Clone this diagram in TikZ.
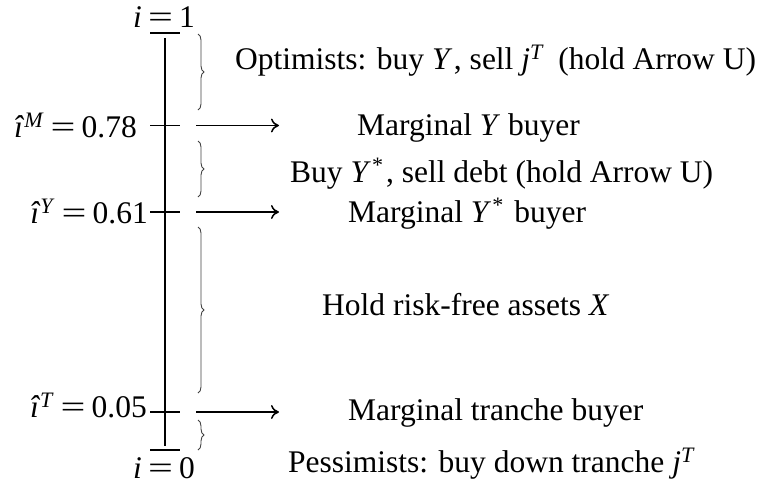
\documentclass[tikz,border=0pt]{standalone}
\usepackage{fontspec}
\setmainfont{Liberation Serif}
\usepackage{graphicx}
\usetikzlibrary{arrows.meta,decorations.pathreplacing}
\newcommand{\vit}[1]{\textit{#1}}
\newcommand{\eqs}{\hspace{0.2em}\scalebox{1.4}[1]{=}\hspace{0.2em}}
\newcommand{\sps}[1]{\textsuperscript{\textit{#1}}}
\newcommand{\starsup}{\textsuperscript{\kern0.05em*}\hspace{0.08em}}
\begin{document}
\begin{tikzpicture}[x=1pt,y=-1pt,
  every node/.style={font=\fontsize{31.5}{38}\selectfont, inner sep=0pt},
  axis/.style={line width=1.4pt},
  tick/.style={line width=1.2pt},
  arr/.style={line width=1.5pt,-{To[length=8pt,width=14pt,line width=1.5pt]}},
  brc/.style={decorate,decoration={brace,amplitude=6pt},line width=0.9pt,black!75},
  desc/.style={anchor=base west},
  lft/.style={anchor=base east}]
\useasboundingbox (0,0) rectangle (767,493);
% axis ends
\coordinate (topL) at (150,33); \coordinate (topR) at (180,33);
\coordinate (botL) at (150,450); \coordinate (botR) at (180,450);
\coordinate (axT) at (165,38); \coordinate (axB) at (165,446);
\draw[tick] (topL) -- (topR);
\draw[tick] (botL) -- (botR);
\draw[axis] (axT) -- (axB);
% ticks
\coordinate (tMl) at (150,125.5); \coordinate (tMr) at (180,125.5);
\coordinate (tYl) at (150,212); \coordinate (tYr) at (180,212);
\coordinate (tTl) at (150,412); \coordinate (tTr) at (180,412);
\draw[tick] (tMl) -- (tMr);
\draw[tick] (tYl) -- (tYr);
\draw[tick] (tTl) -- (tTr);
% end labels
\node[anchor=base] (i1) at (164,27) {\vit{i}\eqs1};
\node[anchor=base] (i0) at (164,478) {\vit{i}\eqs0};
\node[lft] (iM) at (137,137) {\vit{\^{\i}}\sps{M}\eqs0.78};
\node[lft] (iY) at (148,223) {\vit{\^{\i}}\sps{Y}\eqs0.61};
\node[lft] (iT) at (147,417) {\vit{\^{\i}}\sps{T}\eqs0.05};
% arrows
\coordinate (aMs) at (196,125.5); \coordinate (aMe) at (279,125.5);
\coordinate (aYs) at (196,212); \coordinate (aYe) at (279,212);
\coordinate (aTs) at (196,412); \coordinate (aTe) at (279,412);
\draw[arr] (aMs) -- (aMe);
\draw[arr] (aYs) -- (aYe);
\draw[arr] (aTs) -- (aTe);
% braces
\coordinate (b1t) at (198,34); \coordinate (b1b) at (198,110);
\coordinate (b2t) at (198,141); \coordinate (b2b) at (198,197);
\coordinate (b3t) at (198,227); \coordinate (b3b) at (198,393);
\coordinate (b4t) at (198,420); \coordinate (b4b) at (198,450);
\draw[brc] (b1t) -- (b1b);
\draw[brc] (b2t) -- (b2b);
\draw[brc] (b3t) -- (b3b);
\draw[brc] (b4t) -- (b4b);
% descriptions
\node[desc] (opt) at (235,69) {Optimists: buy \vit{Y}\hspace{0.05em}, sell \vit{j}\sps{T}\hspace{0.2em} (hold Arrow U)};
\node[desc] (mY) at (357,135) {Marginal \vit{Y} buyer};
\node[desc] (bY) at (290,182) {Buy \vit{Y}\starsup{}, sell debt (hold Arrow U)};
\node[desc] (mYs) at (348,222) {Marginal \vit{Y}\starsup{} buyer};
\node[desc] (hold) at (322,315) {Hold risk-free assets \vit{X}};
\node[desc] (mT) at (348,420) {Marginal tranche buyer};
\node[desc] (pes) at (288,472) {Pessimists: buy down tranche \vit{j}\sps{T}};
\end{tikzpicture}
\end{document}
